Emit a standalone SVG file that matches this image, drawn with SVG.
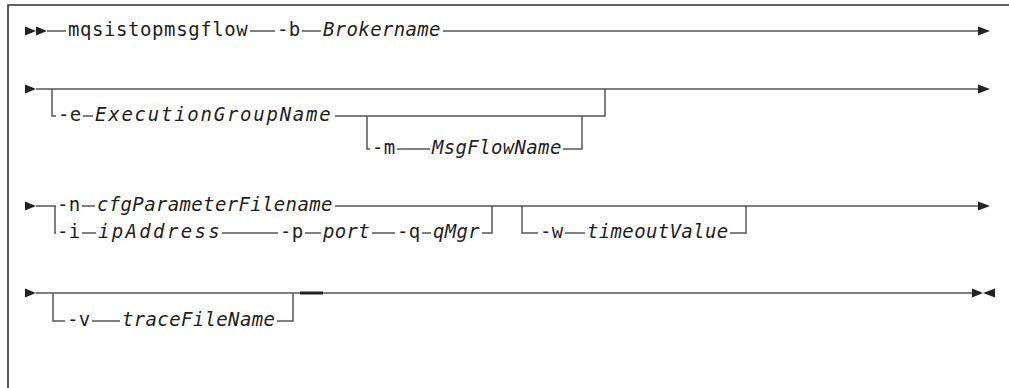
<svg xmlns="http://www.w3.org/2000/svg" width="1009" height="388" viewBox="0 0 1009 388">
<style>
.ln{stroke:#555;stroke-width:1.5;fill:none}
.fr{stroke:#333;stroke-width:1.6;fill:none}
.ah{fill:#222}
.t{font-family:"DejaVu Sans Mono",monospace;font-size:19px;letter-spacing:0.35px;fill:#1e1e1e}
.v{font-style:italic}
</style>
<rect width="1009" height="388" fill="#fff"/>
<path class="fr" d="M8,388 V5 H1009"/>
<g id="connectors">
  <polygon class="ah" points="25,26.5 36,31 25,35.5"/>
  <polygon class="ah" points="36,26.5 47,31 36,35.5"/>
  <path class="ln" d="M47,31 H66 M250,31 H275 M302,31 H321 M443,31 H979"/>
  <polygon class="ah" points="978,26.5 990,31 978,35.5"/>
  <polygon class="ah" points="25,84.5 36,89 25,93.5"/>
  <path class="ln" d="M36,89 H979"/>
  <polygon class="ah" points="978,84.5 990,89 978,93.5"/>
  <path class="ln" d="M52,89 V116 H56 M83,116 H93 M335,116 H605 V89"/>
  <path class="ln" d="M367,116 V149 H370 M397,149 H430 M563,149 H582 V116"/>
  <polygon class="ah" points="25,201.5 36,206 25,210.5"/>
  <path class="ln" d="M36,206 H56 M82,206 H95 M335,206 H979"/>
  <polygon class="ah" points="978,201.5 990,206 978,210.5"/>
  <path class="ln" d="M55,206 V233 H56 M82,233 H96 M222,233 H278 M305,233 H321 M372,233 H395 M422,233 H431 M482,233 H492 V206"/>
  <path class="ln" d="M522,206 V233 H538 M565,233 H585 M730,233 H746 V206"/>
  <polygon class="ah" points="25,288.5 36,293 25,297.5"/>
  <path class="ln" d="M36,293 H973"/>
  <path d="M300,293 H323" stroke="#222" stroke-width="3"/>
  <polygon class="ah" points="972,288.5 983,293 972,297.5"/>
  <polygon class="ah" points="995,288.5 983,293 995,297.5"/>
  <path class="ln" d="M53,293 V321 H65 M92,321 H120 M277,321 H293 V293"/>
</g>
<g id="n-cmd"><text class="t" x="68" y="35.5" textLength="180">mqsistopmsgflow</text></g>
<g id="n-b"><text class="t" x="277" y="35.5">-b</text></g>
<g id="n-broker"><text class="t v" x="323" y="35.5">Brokername</text></g>
<g id="n-e"><text class="t" x="58" y="120.5">-e</text></g>
<g id="n-egname"><text class="t v" x="95" y="120.5" textLength="236">ExecutionGroupName</text></g>
<g id="n-m"><text class="t" x="372" y="153.5">-m</text></g>
<g id="n-mfname"><text class="t v" x="432" y="153.5">MsgFlowName</text></g>
<g id="n-n"><text class="t" x="57" y="210.5">-n</text></g>
<g id="n-cfg"><text class="t v" x="97" y="210.5">cfgParameterFilename</text></g>
<g id="n-i"><text class="t" x="57" y="237.5">-i</text></g>
<g id="n-ip"><text class="t v" x="98" y="237.5" textLength="122">ipAddress</text></g>
<g id="n-p"><text class="t" x="280" y="237.5">-p</text></g>
<g id="n-port"><text class="t v" x="323" y="237.5">port</text></g>
<g id="n-q"><text class="t" x="397" y="237.5">-q</text></g>
<g id="n-qmgr"><text class="t v" x="433" y="237.5">qMgr</text></g>
<g id="n-w"><text class="t" x="540" y="237.5">-w</text></g>
<g id="n-timeout"><text class="t v" x="587" y="237.5">timeoutValue</text></g>
<g id="n-v"><text class="t" x="67" y="325.5">-v</text></g>
<g id="n-trace"><text class="t v" x="122" y="325.5">traceFileName</text></g>
</svg>
